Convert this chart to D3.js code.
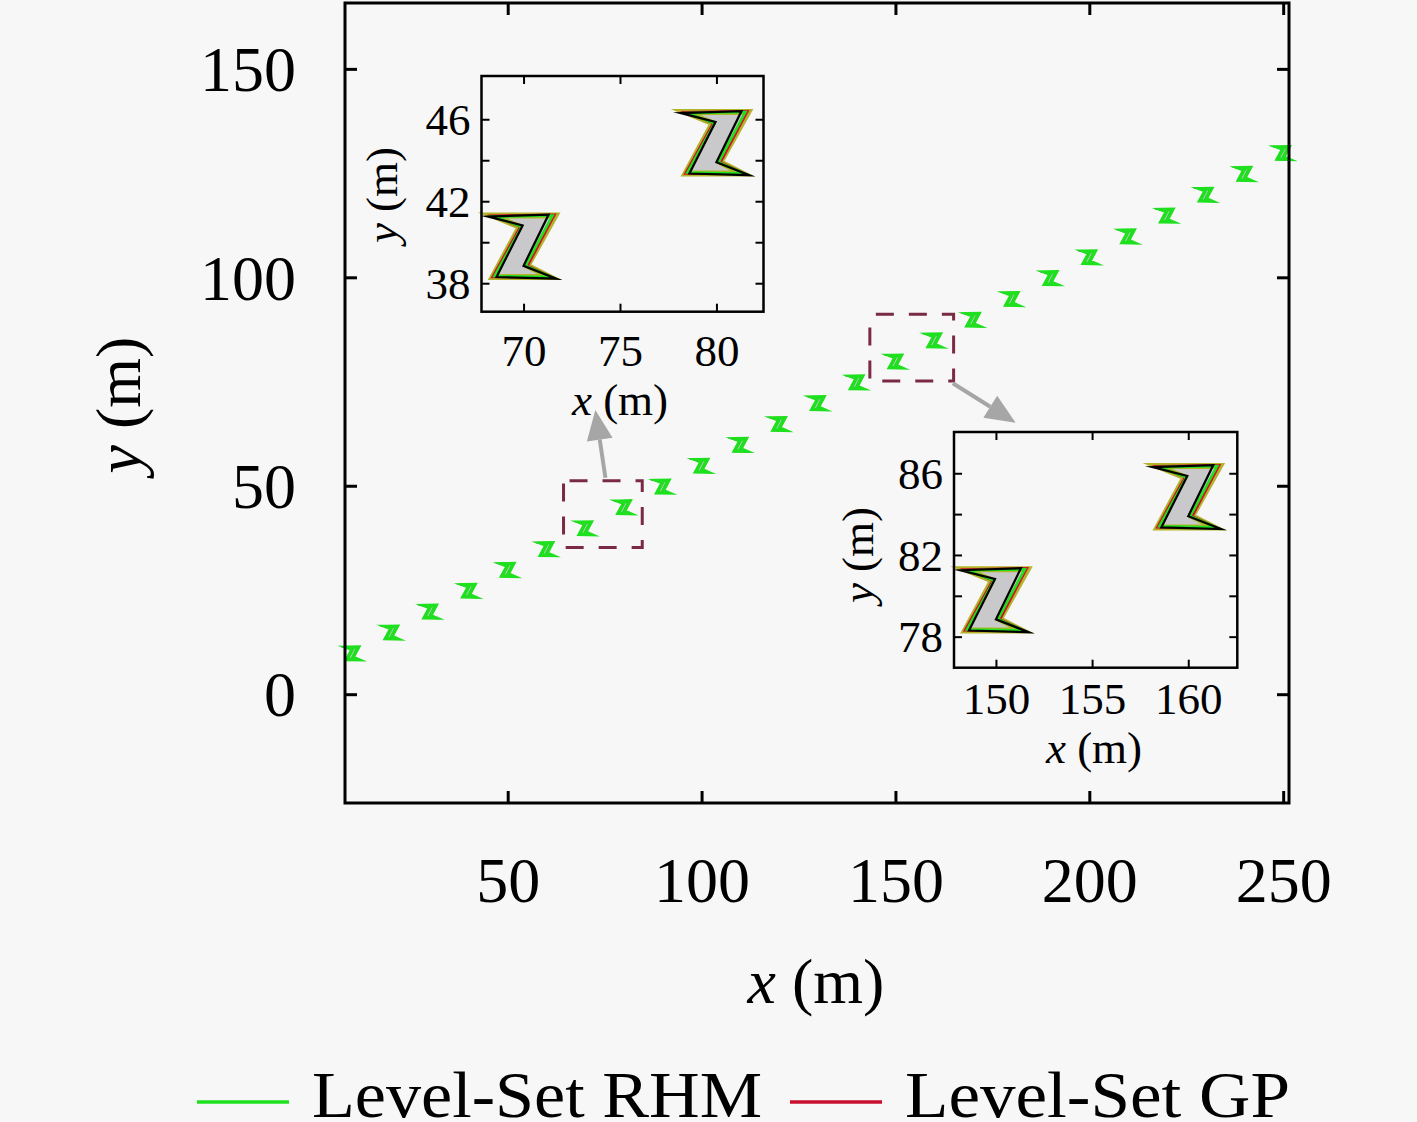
<!DOCTYPE html>
<html>
<head>
<meta charset="utf-8">
<script src="https://cdn.jsdelivr.net/npm/d3@7"></script>
<style>
  html, body { margin: 0; padding: 0; background: #f7f7f7; }
  svg { display: block; }
  text { font-family: "Liberation Serif", "DejaVu Serif", serif; fill: #000; }
</style>
</head>
<body>
<svg id="chart" width="1417" height="1122"></svg>
<script>
// ---------------- data ----------------
const centerX = [10, 20, 30, 40, 50, 60, 70, 80, 90, 100, 110, 120, 130, 140, 150, 160, 170, 180, 190, 200, 210, 220, 230, 240, 250];
const centerY = [9.8, 14.8, 19.8, 24.8, 29.8, 34.8, 39.8, 44.85, 49.8, 54.8, 59.8, 64.8, 69.8, 74.8, 79.8, 84.85, 89.8, 94.8, 99.8, 104.8, 109.8, 114.8, 119.8, 124.8, 129.8];

// Z-shaped extent templates (relative to object centre, metres)
const truthShape = [[-1.6, 1.5], [1.65, 1.5], [0.2, -0.95], [1.35, -1.5], [-1.6, -1.5], [-0.2, 0.95]];
const blackShape = [[-1.85, 1.45], [1.3, 1.55], [0.0, -0.95], [1.7, -1.58], [-1.4, -1.5], [-0.05, 1.02]];
const rhmShape   = [[-1.5, 1.45], [1.5, 1.5], [0.1, -0.95], [1.45, -1.5], [-1.5, -1.45], [-0.1, 0.95]];
const gpShape    = [[-1.62, 1.5], [1.62, 1.55], [0.22, -0.95], [1.5, -1.52], [-1.62, -1.5], [-0.18, 0.95]];

const mainXTicks = [50, 100, 150, 200, 250];
const mainYTicks = [0, 50, 100, 150];
const inset1XTicks = [70, 75, 80];
const inset1YTicks = [38, 40, 42, 44, 46];
const inset1YLabels = [38, 42, 46];
const inset2XTicks = [150, 155, 160];
const inset2YTicks = [78, 80, 82, 84, 86];
const inset2YLabels = [78, 82, 86];

const zoomBox1 = [64.4, 84.7, 35.2, 51.2];
const zoomBox2 = [143.4, 165.0, 75.1, 91.15];
const arrow1 = [[75.2, 51.9], [72.6, 68.2]];
const arrow2 = [[164.8, 74.6], [181.0, 65.1]];

const legendNames = ["Level-Set RHM", "Level-Set GP"];
const legendColors = ["#1ee01e", "#c8102e"];

// ---------------- drawing ----------------
const svg = d3.select("#chart");
const C_TRUTH_FILL = "#c9c9cc", C_TRUTH = "#b4b42a", C_BLACK = "#000", C_RHM = "#1ee01e", C_GP = "#d0102a";

function drawObjects(g, x, y, w, idx, order) {
  const line = d3.line().curve(d3.curveLinearClosed);
  const layers = {
    truth: { shape: truthShape, fill: C_TRUTH_FILL, stroke: C_TRUTH, sw: w.truth },
    gp: { shape: gpShape, fill: "none", stroke: C_GP, sw: w.gp },
    rhm: { shape: rhmShape, fill: "none", stroke: C_RHM, sw: w.rhm },
    black: { shape: blackShape, fill: "none", stroke: C_BLACK, sw: w.black }
  };
  order.forEach(k => {
    const L = layers[k];
    g.selectAll(null).data(idx).enter().append("path")
      .attr("d", i => line(L.shape.map(p => [x(centerX[i] + p[0]), y(centerY[i] + p[1])])))
      .attr("fill", L.fill).attr("stroke", L.stroke).attr("stroke-width", L.sw)
      .attr("stroke-linejoin", "miter").attr("stroke-miterlimit", 10);
  });
}

function frameAxes(g, x, y, xTicks, yTicks, yLabelVals, opt) {
  const [x0, x1] = x.range(), [y0, y1] = y.range();
  const bottom = g.append("g").attr("transform", `translate(0,${y0})`)
    .call(d3.axisBottom(x).tickValues(xTicks).tickSize(-opt.tick).tickPadding(0).tickFormat(d3.format("d")));
  const top = g.append("g").attr("transform", `translate(0,${y1})`)
    .call(d3.axisTop(x).tickValues(xTicks).tickSize(-opt.tick).tickFormat(""));
  const left = g.append("g").attr("transform", `translate(${x0},0)`)
    .call(d3.axisLeft(y).tickValues(yTicks).tickSize(-opt.tick).tickPadding(0)
      .tickFormat(d => yLabelVals.includes(d) ? d3.format("d")(d) : ""));
  const right = g.append("g").attr("transform", `translate(${x1},0)`)
    .call(d3.axisRight(y).tickValues(yTicks).tickSize(-opt.tick).tickFormat(""));
  [bottom, top, left, right].forEach(a => {
    a.select(".domain").remove();
    a.selectAll(".tick line").attr("stroke", "#000").attr("stroke-width", opt.tickW);
  });
  bottom.selectAll("text").attr("y", opt.xLabelY).attr("dy", null)
    .style("font-size", opt.fs + "px").attr("fill", "#000");
  left.selectAll("text").attr("x", -opt.yLabelPad).attr("dy", "0.34em")
    .style("font-size", opt.fs + "px").attr("fill", "#000");
  g.append("rect").attr("x", x0).attr("y", y1).attr("width", x1 - x0).attr("height", y0 - y1)
    .attr("fill", "none").attr("stroke", "#000").attr("stroke-width", opt.frameW);
}

function axisTitle(g, label, px, py, fs, rotate) {
  const t = g.append("text").attr("text-anchor", "middle").style("font-size", fs + "px")
    .attr("transform", rotate ? `translate(${px},${py}) rotate(-90)` : `translate(${px},${py})`);
  t.append("tspan").style("font-style", "italic").text(label);
  t.append("tspan").text(" (m)");
}

// ---- main plot ----
const x = d3.scaleLinear().domain([8.04, 251.5]).range([345, 1289]);
const y = d3.scaleLinear().domain([-26.1, 165.8]).range([803, 3]);
const main = svg.append("g");

drawObjects(main, x, y, { truth: 2, gp: 1.5, rhm: 3.6, black: 1.6 }, d3.range(centerX.length),
  ["truth", "gp", "black", "rhm"]);

frameAxes(main, x, y, mainXTicks, mainYTicks, mainYTicks,
  { tick: 12, tickW: 3, fs: 64, xLabelY: 99, yLabelPad: 49, frameW: 3 });

axisTitle(main, "x", 816, 1003, 64, false);
axisTitle(main, "y", 140, 405, 64, true);

// zoom boxes
[zoomBox1, zoomBox2].forEach(b => {
  main.append("rect")
    .attr("x", x(b[0])).attr("y", y(b[3]))
    .attr("width", x(b[1]) - x(b[0])).attr("height", y(b[2]) - y(b[3]))
    .attr("fill", "none").attr("stroke", "#7a2a45").attr("stroke-width", 3)
    .attr("stroke-dasharray", "18,15").attr("stroke-dashoffset", -6);
});

// arrows
function drawArrow(a) {
  const [t, h] = a;
  const x0 = x(t[0]), y0 = y(t[1]), x1 = x(h[0]), y1 = y(h[1]);
  const ang = Math.atan2(y1 - y0, x1 - x0);
  const hl = 30, hw = 13;
  const bx = x1 - hl * Math.cos(ang), by = y1 - hl * Math.sin(ang);
  main.append("line").attr("x1", x0).attr("y1", y0).attr("x2", bx).attr("y2", by)
    .attr("stroke", "#a6a6a6").attr("stroke-width", 4);
  const px = -Math.sin(ang) * hw, py = Math.cos(ang) * hw;
  main.append("path")
    .attr("d", `M${x1},${y1}L${bx + px},${by + py}L${bx - px},${by - py}Z`)
    .attr("fill", "#a6a6a6");
}
drawArrow(arrow1);
drawArrow(arrow2);

// ---- insets ----
function inset(xd, xr, yd, yr, xTicks, yTicks, yLabels, idx, lab) {
  const xi = d3.scaleLinear().domain(xd).range(xr);
  const yi = d3.scaleLinear().domain(yd).range(yr);
  const g = svg.append("g");
  g.append("rect").attr("x", xr[0]).attr("y", yr[1]).attr("width", xr[1] - xr[0]).attr("height", yr[0] - yr[1])
    .attr("fill", "#f7f7f7");
  const cg = g.append("g");
  drawObjects(cg, xi, yi, { truth: 6, gp: 2.2, rhm: 2.6, black: 2.2 }, idx, ["truth", "gp", "rhm", "black"]);
  frameAxes(g, xi, yi, xTicks, yTicks, yLabels,
    { tick: 8, tickW: 2, fs: 45, xLabelY: lab.xLabelY, yLabelPad: 11, frameW: 2.5 });
  axisTitle(g, "x", lab.xt[0], lab.xt[1], 45, false);
  axisTitle(g, "y", lab.yt[0], lab.yt[1], 45, true);
}
inset([67.82, 82.44], [481.5, 763.5], [36.61, 48.11], [311.7, 76],
  inset1XTicks, inset1YTicks, inset1YLabels, [6, 7], { xLabelY: 54, xt: [620, 415], yt: [397, 195] });
inset([147.82, 162.55], [954, 1237.3], [76.48, 88.02], [667.7, 432],
  inset2XTicks, inset2YTicks, inset2YLabels, [14, 15], { xLabelY: 46, xt: [1094, 763], yt: [873, 555] });

// ---- legend ----
const legX = [197, 790], legTextX = [312, 905], legLen = [450, 385];
legendNames.forEach((n, i) => {
  svg.append("line").attr("x1", legX[i]).attr("x2", legX[i] + 92).attr("y1", 1102).attr("y2", 1102)
    .attr("stroke", legendColors[i]).attr("stroke-width", 3.5);
  svg.append("text").attr("x", legTextX[i]).attr("y", 1117).style("font-size", "65px")
    .attr("textLength", legLen[i]).attr("lengthAdjust", "spacingAndGlyphs").text(n);
});
</script>
</body>
</html>
